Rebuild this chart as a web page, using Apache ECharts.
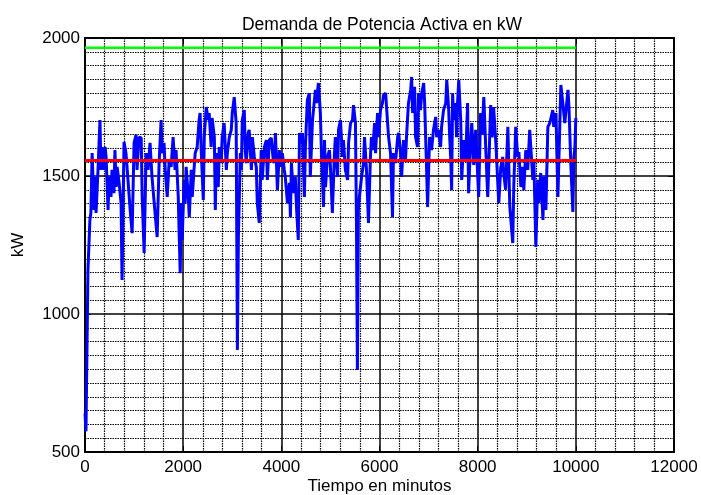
<!DOCTYPE html>
<html lang="es">
<head>
    <meta charset="utf-8">
    <title>Demanda de Potencia Activa en kW</title>
    <style>
        html, body { margin: 0; padding: 0; background: #fff; }
        #chart { width: 701px; height: 495px; }
    </style>
</head>
<body>
<div id="chart"></div>
<script src="https://cdn.jsdelivr.net/npm/echarts@6/dist/echarts.min.js"></script>
<script>
// demanda medida [minuto, kW]
var demanda = [
    [0,640],[20,575],[60,1160],[100,1341],[120,1366],[145,1583],[185,1377],[205,1497],[225,1366],[265,1522],
    [305,1703],[325,1522],[345,1605],[390,1522],[410,1605],[430,1569],[470,1377],[490,1497],[530,1424],[550,1522],
    [590,1438],[610,1594],[635,1460],[655,1533],[695,1475],[735,1402],[755,1123],[775,1377],[795,1623],[835,1583],
    [880,1475],[920,1377],[960,1293],[1000,1620],[1040,1649],[1060,1522],[1100,1641],[1145,1638],[1165,1424],[1205,1221],
    [1245,1583],[1285,1522],[1325,1620],[1365,1497],[1410,1402],[1470,1279],[1510,1547],[1550,1703],[1570,1583],[1610,1620],
    [1635,1522],[1675,1424],[1715,1558],[1755,1533],[1795,1641],[1835,1522],[1855,1594],[1900,1424],[1920,1279],[1940,1148],
    [1960,1402],[1980,1268],[2020,1486],[2040,1402],[2060,1533],[2100,1438],[2125,1351],[2165,1522],[2185,1424],[2225,1533],
    [2245,1583],[2285,1605],[2325,1703],[2345,1728],[2370,1583],[2410,1413],[2430,1641],[2470,1750],[2510,1703],[2530,1728],
    [2570,1605],[2590,1710],[2635,1641],[2655,1377],[2675,1583],[2715,1460],[2735,1605],[2775,1547],[2795,1641],[2835,1692],
    [2880,1522],[2900,1583],[2940,1641],[2980,1667],[3000,1728],[3040,1786],[3080,1692],[3105,870],[3125,1279],[3165,1583],
    [3185,1522],[3205,1703],[3245,1739],[3265,1594],[3285,1547],[3325,1656],[3345,1667],[3390,1522],[3410,1641],[3450,1569],
    [3490,1533],[3510,1402],[3550,1330],[3590,1594],[3610,1486],[3655,1605],[3695,1630],[3715,1486],[3755,1630],[3795,1638],
    [3835,1558],[3855,1547],[3880,1656],[3920,1449],[3960,1594],[3980,1533],[4020,1583],[4060,1522],[4080,1497],[4125,1402],
    [4165,1475],[4185,1351],[4205,1547],[4245,1438],[4285,1497],[4305,1402],[4345,1268],[4370,1656],[4390,1620],[4430,1656],
    [4470,1424],[4490,1605],[4530,1775],[4570,1800],[4590,1497],[4635,1703],[4655,1739],[4695,1812],[4715,1764],[4755,1837],
    [4795,1728],[4815,1605],[4860,1388],[4880,1630],[4900,1460],[4940,1569],[4980,1594],[5000,1533],[5040,1366],[5080,1569],
    [5100,1641],[5145,1497],[5165,1667],[5205,1703],[5245,1569],[5265,1630],[5305,1522],[5350,1486],[5370,1620],[5410,1692],
    [5450,1703],[5470,1757],[5510,1692],[5530,1341],[5550,797],[5570,1377],[5590,1424],[5635,1497],[5675,1547],[5695,1641],
    [5735,1522],[5755,1424],[5775,1330],[5815,1569],[5835,1641],[5860,1594],[5900,1692],[5920,1583],[5960,1728],[5980,1641],
    [6020,1739],[6060,1764],[6080,1793],[6125,1800],[6165,1692],[6185,1641],[6225,1583],[6265,1351],[6285,1583],[6325,1547],
    [6370,1641],[6390,1656],[6430,1583],[6450,1497],[6490,1630],[6530,1558],[6550,1641],[6590,1764],[6635,1812],[6655,1859],
    [6675,1728],[6715,1823],[6735,1641],[6775,1605],[6795,1800],[6835,1739],[6860,1800],[6900,1837],[6920,1764],[6940,1641],
    [6960,1522],[6980,1388],[7020,1641],[7060,1594],[7100,1667],[7145,1714],[7165,1641],[7205,1667],[7245,1605],[7265,1678],
    [7305,1739],[7350,1764],[7370,1848],[7410,1739],[7430,1641],[7450,1569],[7470,1449],[7490,1800],[7510,1703],[7550,1764],
    [7570,1641],[7590,1764],[7615,1848],[7655,1703],[7675,1486],[7715,1630],[7755,1560],[7795,1764],[7815,1438],[7850,1600],
    [7880,1692],[7920,1540],[7960,1667],[8020,1424],[8060,1728],[8090,1650],[8125,1786],[8165,1600],[8205,1424],[8235,1580],
    [8265,1757],[8295,1640],[8325,1750],[8370,1620],[8430,1402],[8470,1530],[8510,1569],[8530,1511],[8570,1450],[8615,1678],
    [8655,1388],[8715,1257],[8735,1460],[8775,1678],[8815,1569],[8840,1587],[8880,1460],[8920,1533],[8940,1449],[8980,1594],
    [9020,1522],[9060,1667],[9125,1486],[9145,1558],[9185,1243],[9225,1486],[9245,1402],[9285,1511],[9330,1341],[9350,1497],
    [9390,1377],[9430,1678],[9470,1692],[9530,1739],[9550,1678],[9595,1728],[9635,1424],[9695,1830],[9735,1764],[9775,1692],
    [9840,1812],[9860,1750],[9900,1533],[9940,1370],[9960,1569],[9980,1601],[10000,1710]
];
var limiteSuperior = [[0,1965],[10000,1965]];
var promedio = [[0,1556],[10000,1556]];
var ejeX = {min: 0, max: 12000, interval: 2000};
var ejeY = {min: 500, max: 2000, interval: 500};

var fuente = 'Liberation Sans';
var chart = echarts.init(document.getElementById('chart'));

function eje(conEtiquetas, extremos, menores, margen) {
    return {
        type: 'value',
        min: extremos.min,
        max: extremos.max,
        interval: extremos.interval,
        axisLine: {show: true, onZero: false, lineStyle: {color: '#000', width: 2}},
        axisTick: {show: true, inside: true, length: 6, lineStyle: {color: '#000', width: 1}},
        axisLabel: {
            show: conEtiquetas, color: '#000', fontFamily: fuente, fontSize: 17, margin: margen,
            formatter: function (v) { return String(v); }
        },
        splitLine: {show: conEtiquetas, lineStyle: {color: '#000', width: 1.5}},
        minorTick: {show: false, splitNumber: menores},
        minorSplitLine: {show: conEtiquetas, lineStyle: {color: '#000', width: 1.2, type: [1.5, 1]}}
    };
}

var x1 = eje(true, ejeX, 5, 7);
x1.name = 'Tiempo en minutos';
x1.nameLocation = 'middle';
x1.nameGap = 26;
x1.nameMoveOverlap = false;
x1.nameTextStyle = {color: '#000', fontFamily: fuente, fontSize: 17};
var x2 = eje(false, ejeX, 5, 7);
x2.position = 'top';

var y1 = eje(true, ejeY, 10, 5);
y1.name = 'kW';
y1.nameLocation = 'middle';
y1.nameGap = 58;
y1.nameMoveOverlap = false;
y1.nameTextStyle = {color: '#000', fontFamily: fuente, fontSize: 17};
var y2 = eje(false, ejeY, 10, 5);
y2.position = 'right';

chart.setOption({
    backgroundColor: '#fff',
    animation: false,
    title: {
        text: 'Demanda de Potencia Activa en kW',
        left: 377,
        textAlign: 'center',
        top: 11,
        textStyle: {color: '#000', fontFamily: fuente, fontSize: 17.5, fontWeight: 'normal'}
    },
    grid: {left: 85, right: 27, top: 38, bottom: 43, outerBoundsMode: 'none'},
    xAxis: [x1, x2],
    yAxis: [y1, y2],
    series: [
        {
            name: 'Demanda',
            type: 'line',
            data: demanda,
            showSymbol: false,
            lineStyle: {color: '#0000ff', width: 3},
            z: 3
        },
        {
            name: 'Limite',
            type: 'line',
            data: limiteSuperior,
            showSymbol: false,
            lineStyle: {color: '#00ff00', width: 2.5},
            z: 4
        },
        {
            name: 'Promedio',
            type: 'line',
            data: promedio,
            showSymbol: false,
            lineStyle: {color: '#ff0000', width: 3},
            z: 5
        }
    ]
});
</script>
</body>
</html>
